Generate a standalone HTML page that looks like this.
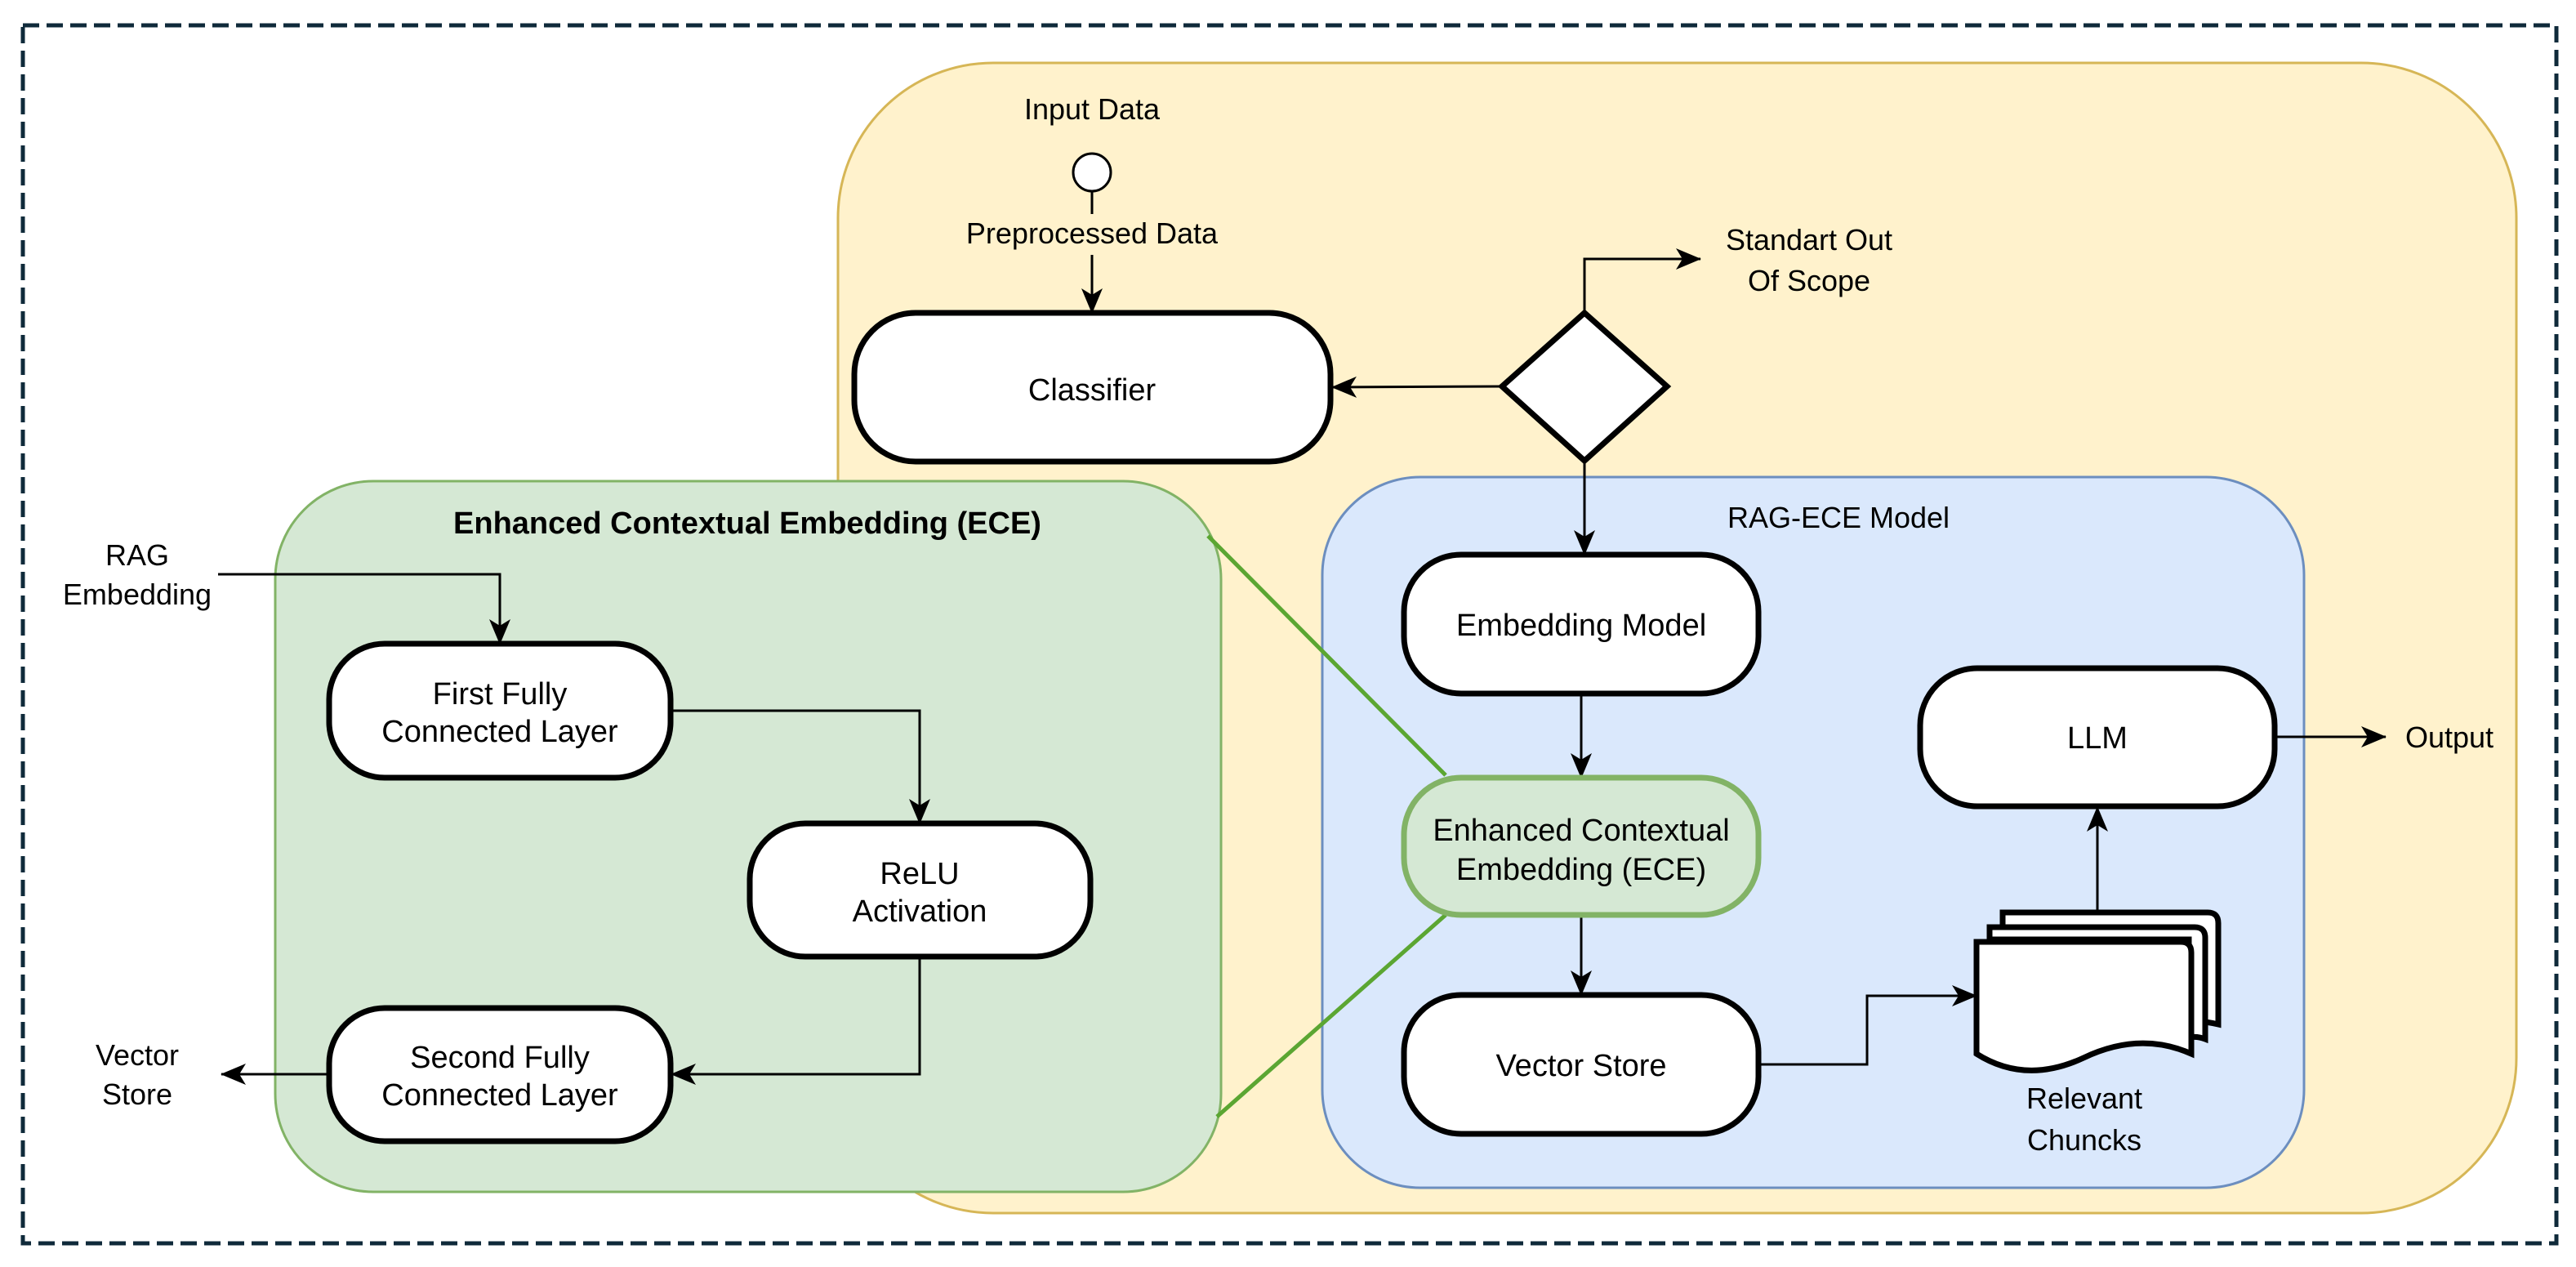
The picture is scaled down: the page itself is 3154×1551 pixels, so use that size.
<!DOCTYPE html>
<html><head><meta charset="utf-8"><style>
html,body{margin:0;padding:0;background:#fff;}
svg{display:block;}
text{font-family:"Liberation Sans",Arial,sans-serif;fill:#000;}
</style></head><body>
<svg width="3154" height="1551" viewBox="0 0 3154 1551" xmlns="http://www.w3.org/2000/svg">
<defs>
<marker id="ar" markerUnits="userSpaceOnUse" markerWidth="34" markerHeight="28" refX="30" refY="13" orient="auto">
<path d="M0,0 L31,13 L0,26 L8,13 Z" fill="#000"/>
</marker>
</defs>
<rect width="3154" height="1551" fill="#fff"/>
<!-- dashed frame -->
<rect x="28" y="31" width="3102" height="1491" fill="none" stroke="#0f2a3a" stroke-width="5" stroke-dasharray="20 9"/>
<!-- yellow container -->
<rect x="1026" y="77" width="2055" height="1408" rx="190" ry="190" fill="#fff2cc" stroke="#d6b656" stroke-width="3"/>
<!-- blue container -->
<rect x="1619" y="584" width="1202" height="870" rx="120" ry="120" fill="#dae8fc" stroke="#6c8ebf" stroke-width="3"/>
<!-- green container -->
<rect x="337" y="589" width="1158" height="870" rx="120" ry="120" fill="#d5e8d4" stroke="#82b366" stroke-width="3"/>
<!-- green zoom lines -->
<line x1="1479" y1="656" x2="1770" y2="949" stroke="#5ba632" stroke-width="5"/>
<line x1="1770" y1="1120" x2="1490" y2="1367" stroke="#5ba632" stroke-width="5"/>

<!-- connectors -->
<g fill="none" stroke="#000" stroke-width="3">
<line x1="1337" y1="235" x2="1337" y2="262"/>
<line x1="1337" y1="312" x2="1337" y2="383" marker-end="url(#ar)"/>
<line x1="1839" y1="473" x2="1631" y2="474" marker-end="url(#ar)"/>
<polyline points="1940,383 1940,317 2082,317" marker-end="url(#ar)"/>
<line x1="1940" y1="564" x2="1940" y2="679" marker-end="url(#ar)"/>
<line x1="1936" y1="849" x2="1936" y2="952" marker-end="url(#ar)"/>
<line x1="1936" y1="1120" x2="1936" y2="1218" marker-end="url(#ar)"/>
<polyline points="2153,1303 2286,1303 2286,1219 2420,1219" marker-end="url(#ar)"/>
<line x1="2568" y1="1117" x2="2568" y2="988" marker-end="url(#ar)"/>
<line x1="2785" y1="902" x2="2921" y2="902" marker-end="url(#ar)"/>
<polyline points="267,703 612,703 612,788" marker-end="url(#ar)"/>
<polyline points="821,870 1126,870 1126,1008" marker-end="url(#ar)"/>
<polyline points="1126,1171 1126,1315 822,1315" marker-end="url(#ar)"/>
<line x1="403" y1="1315" x2="271" y2="1315" marker-end="url(#ar)"/>
</g>

<!-- start circle -->
<circle cx="1337" cy="211" r="23" fill="#fff" stroke="#000" stroke-width="3"/>

<!-- nodes -->
<g stroke="#000" stroke-width="7" fill="#fff">
<rect x="1046" y="383" width="583" height="182" rx="75"/>
<rect x="1719" y="679" width="434" height="170" rx="70"/>
<rect x="1719" y="1218" width="434" height="170" rx="70"/>
<rect x="2351" y="818" width="434" height="169" rx="70"/>
<rect x="403" y="788" width="418" height="164" rx="68"/>
<rect x="918" y="1008" width="417" height="163" rx="68"/>
<rect x="403" y="1234" width="418" height="163" rx="68"/>
<polygon points="1940,383 2041,473 1940,564 1839,473"/>
</g>
<rect x="1719" y="952" width="434" height="168" rx="70" fill="#d5e8d4" stroke="#82b366" stroke-width="7"/>

<!-- document stack -->
<g stroke="#000" stroke-width="7" fill="#fff">
<path d="M2452,1117 H2703 Q2716,1117 2716,1130 V1254 Q2690,1248 2680,1252 V1140 H2452 Z"/>
<path d="M2436,1135 H2687 Q2700,1135 2700,1148 V1272 Q2690,1268 2680,1270 V1150 H2436 Z"/>
<path d="M2420,1153 H2670 Q2683,1153 2683,1166 V1290 Q2620,1262 2551,1295 Q2480,1328 2420,1290 Z"/>
</g>

<!-- text -->
<g font-size="36" text-anchor="middle">
<text x="1337" y="146">Input Data</text>
<text x="1337" y="298">Preprocessed Data</text>
<text x="2215" y="306">Standart Out</text>
<text x="2215" y="356">Of Scope</text>
<text x="2251" y="646">RAG-ECE Model</text>
<text x="2999" y="915">Output</text>
<text x="2552" y="1357">Relevant</text>
<text x="2552" y="1408">Chuncks</text>
<text x="168" y="692">RAG</text>
<text x="168" y="740">Embedding</text>
<text x="168" y="1304">Vector</text>
<text x="168" y="1352">Store</text>
</g>
<g font-size="38" text-anchor="middle">
<text x="1337" y="490">Classifier</text>
<text x="1936" y="778">Embedding Model</text>
<text x="1936" y="1029">Enhanced Contextual</text>
<text x="1936" y="1077">Embedding (ECE)</text>
<text x="1936" y="1317">Vector Store</text>
<text x="2568" y="916">LLM</text>
<text x="612" y="862">First Fully</text>
<text x="612" y="908">Connected Layer</text>
<text x="1126" y="1082">ReLU</text>
<text x="1126" y="1128">Activation</text>
<text x="612" y="1307">Second Fully</text>
<text x="612" y="1353">Connected Layer</text>
</g>
<text x="915" y="653" font-size="38" font-weight="bold" text-anchor="middle">Enhanced Contextual Embedding (ECE)</text>
</svg>
</body></html>
